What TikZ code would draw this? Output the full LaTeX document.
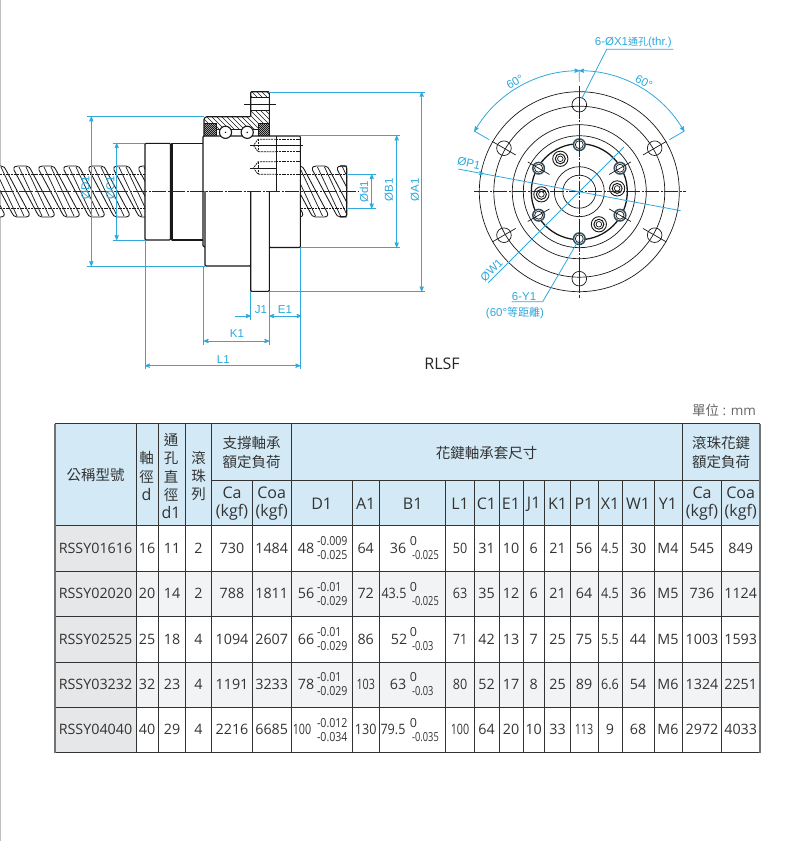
\documentclass[tikz,border=0pt]{standalone}
\usepackage{fontspec}
\setmainfont{Open Sans}
\newfontfamily\cjk{Noto Sans CJK TC}
\newfontfamily\dimfont{Liberation Sans}
\usepackage{tikz}
\usetikzlibrary{arrows}
\usetikzlibrary{positioning}
\definecolor{dimblue}{HTML}{2FA8DC}
\definecolor{headblue}{HTML}{D3EAF6}
\definecolor{namegray}{HTML}{E6E7E8}
\definecolor{rowgray}{HTML}{F2F3F4}
\definecolor{inktext}{HTML}{333333}
\definecolor{holeink}{HTML}{33505E}
\newcommand{\zh}[1]{{\cjk #1}}
\newcommand{\nar}[1]{\scalebox{.75}[1]{#1}}
\newcommand{\semi}[1]{\scalebox{.88}[1]{#1}}
\newcommand{\lat}[1]{{\fontsize{16}{18.3}\selectfont #1}}
\newcommand{\colx}{95.5,147,172,198.5,232,271.7,365.7,460,486.5,511,533.7,557.5,584,610,638,668,702,740.7}
\newcommand{\threadturn}[1]{
  \draw[thread] (#1+1,170) .. controls (#1,166.5) and (#1+3,166) .. (#1+5,166) -- (#1+13,166) .. controls (#1+16,166) and (#1+17,168) .. (#1+18,170) -- (#1+41,213) .. controls (#1+42,216) and (#1+40,217) .. (#1+37,217) -- (#1+29,217) .. controls (#1+26,217) and (#1+25,215) .. (#1+24,213) -- cycle;
  \draw[thin part] (#1+13,167) -- (#1+36,216);
  \draw[thin part] (#1+6,167) -- (#1+29,216);
}
\tikzset{part/.style={draw=black!90,line width=1.1pt,line join=round}}
\tikzset{thin part/.style={draw=black!90,line width=.7pt}}
\tikzset{thread/.style={draw=black!90,line width=.85pt,fill=white}}
\tikzset{hidden/.style={draw=black!90,line width=.75pt,dash pattern=on 2pt off .8pt}}
\tikzset{axis/.style={draw=black!85,line width=.7pt,dash pattern=on 14pt off 1.5pt on 2pt off 1.5pt}}
\tikzset{dimline/.style={draw=dimblue,line width=.8pt}}
\tikzset{dimarrow/.style={dimline,<->,>=stealth'}}
\tikzset{dimlabel/.style={text=dimblue,inner sep=0pt,font=\dimfont\fontsize{11.5}{12}\selectfont}}
\tikzset{grid/.style={draw=black!80,line width=.85pt}}
\tikzset{celltext/.style={text=inktext,inner sep=0pt,font=\fontsize{14.3}{14}\selectfont}}
\tikzset{head/.style={text=inktext,inner sep=0pt,align=center,font=\fontsize{14.5}{18.3}\selectfont}}
\tikzset{tol/.style={text=inktext,inner sep=0pt,font=\fontsize{12.5}{13}\selectfont}}
\begin{document}
\begin{tikzpicture}[x=1pt,y=-1pt]
\useasboundingbox (0,0) rectangle (792,841);
\draw[draw=black!25,line width=1.3pt] (.4,0) -- (.4,841);

% screw shaft
\begin{scope}
\clip (0,160) rectangle (145,225);
\foreach \t in {-37,-12,...,138} {\threadturn{\t}}
\end{scope}
\begin{scope}
\clip (301,160) rectangle (347,225);
\foreach \t in {261.5,286.5,311.5,336.5} {\threadturn{\t}}
\end{scope}
\draw[part,rounded corners=2pt] (340,166) -- (346.7,166) -- (346.7,216.7) -- (340,216.7);
\draw[hidden] (0,174.3) -- (145,174.3) (301,174.3) -- (347,174.3);
\draw[hidden] (0,208.3) -- (145,208.3) (301,208.3) -- (347,208.3);

% nut body
\draw[part,fill=white,rounded corners=1pt] (145,143.3) rectangle (170.5,240);
\draw[part,fill=white] (203,143.3) -- (172,143.3) -- (172,240) -- (203,240);
\draw[part,fill=white,rounded corners=1pt] (205,191) -- (205,266) -- (250.7,266) -- (250.7,246.7) -- (269.3,246.7) -- (269.3,247.5) -- (300.3,247.5) -- (300.3,136) -- (203,136) -- (203,246.7) -- (205,246.7);
\draw[part,fill=white,rounded corners=1pt] (250.7,191) -- (250.7,291.3) -- (269.3,291.3) -- (269.3,191);
\draw[thin part] (276,136) -- (276,191);

% cut-away flange with hatching
\begin{scope}
\clip (204,116.7) -- (250.7,116.7) -- (250.7,110) -- (269.3,110) -- (269.3,123) -- (258.7,123) -- (258.7,129.5) -- (216,129.5) -- (216,123) -- (204,123) -- cycle;
\foreach \h in {150,155,...,300}
  \draw[thin part] (\h,90) -- (\h+50,140);
\end{scope}
\begin{scope}
\clip (250.7,91.7) rectangle (269.3,97.7);
\foreach \h in {220,225,...,270}
  \draw[thin part] (\h,90) -- (\h+10,100);
\end{scope}
\begin{scope}
\clip (204,123) rectangle (216,136);
\foreach \h in {190,192,...,225}
  \draw[draw=black!90,line width=.8pt] (\h,136) -- (\h+13,123);
\end{scope}
\begin{scope}
\clip (258.7,123) rectangle (269.3,136);
\foreach \h in {245,247,...,270}
  \draw[draw=black!90,line width=.8pt] (\h,136) -- (\h+13,123);
\end{scope}
\draw[part,rounded corners=1pt] (204,136) -- (204,118.7) -- (206,116.7) -- (250.7,116.7) -- (250.7,91.7) -- (269.3,91.7) -- (269.3,136);
\draw[thin part] (250.7,97.7) -- (269.3,97.7) (250.7,110) -- (269.3,110);
\draw[thin part] (204,123) -- (216,123) -- (216,136) (258.7,136) -- (258.7,123) -- (269.3,123);
\draw[thin part] (216,129.5) -- (258.7,129.5);
\draw[thin part] (244,104) -- (276,104);
\foreach \bx in {225.5,247.2} {
  \draw[part,fill=white] (\bx,132.3) circle (6.1);
  \fill[black] (\bx,132.3) circle (.8);
}

% threaded holes
\foreach \hy in {145.5,168} {
  \draw[hidden] (276,\hy-6.2) -- (258,\hy-6.2) -- (253.5,\hy) -- (258,\hy+6.2) -- (276,\hy+6.2);
  \draw[hidden] (258,\hy-6.2) -- (258,\hy+6.2);
  \draw[hidden] (276,\hy-6.2) -- (300,\hy-6.2) (276,\hy+6.2) -- (300,\hy+6.2);
}
\draw[thin part] (250,145.5) -- (303,145.5) (250,168) -- (276,168);
\draw[axis] (0,191) -- (358,191);

% dimension lines of side view
\draw[dimline] (87,116.7) -- (204,116.7) (87,266) -- (204.5,266);
\draw[dimline] (112.7,143.3) -- (145,143.3) (112.7,240) -- (145,240);
\draw[dimline] (348,174.3) -- (376,174.3) (348,208.3) -- (376,208.3);
\draw[dimline] (300.3,135.7) -- (400,135.7) (300.3,247.3) -- (400,247.3);
\draw[dimline] (269.3,91.9) -- (425,91.9) (269.3,291.3) -- (425,291.3);
\draw[dimline] (250.7,291.3) -- (250.7,319.5) (269.3,291.3) -- (269.3,345) (300.3,247.3) -- (300.3,369);
\draw[dimline] (203.7,266) -- (203.7,345) (145,240) -- (145,369);
\draw[dimarrow] (91.3,116.7) -- (91.3,266);
\draw[dimarrow] (116.7,143.3) -- (116.7,240);
\draw[dimarrow] (371.7,174.3) -- (371.7,208.3);
\draw[dimarrow] (396.7,135.7) -- (396.7,247.3);
\draw[dimarrow] (421.7,91.9) -- (421.7,291.3);
\draw[dimline,->,>=stealth'] (235,316) -- (250.7,316);
\draw[dimarrow] (269.3,316) -- (301.5,316);
\draw[dimarrow] (203.7,341) -- (269.3,341);
\draw[dimarrow] (145,365.7) -- (300.3,365.7);
\node[dimlabel,rotate=90] (lblD1) at (85.5,188) {ØD1};
\node[dimlabel,rotate=90] (lblC1) at (110.5,188) {ØC1};
\node[dimlabel,rotate=90] (lbld1) at (364,191.5) {Ød1};
\node[dimlabel,rotate=90] (lblB1) at (389,190) {ØB1};
\node[dimlabel,rotate=90] (lblA1) at (415,190) {ØA1};
\node[dimlabel] (lblJ1) at (261,309.5) {J1};
\node[dimlabel] (lblE1) at (285,309.5) {E1};
\node[dimlabel] (lblK1) at (237,334) {K1};
\node[dimlabel] (lblL1) at (223.3,360) {L1};
\node[inner sep=0pt,text=black!85,font=\fontsize{16}{16}\selectfont] (rlsf) at (442,364) {RLSF};

% end view
\begin{scope}[shift={(579.3,191.7)},x=1pt,y=1pt]
\foreach \rr in {100,85.5,67,56,25,16.5}
  \draw[thin part] (0,0) circle (\rr);
\draw[draw=black!90,line width=1.3pt] (0,0) circle (48);
\foreach \a in {30,90,...,330} {
  \draw[thin part] (\a:87) circle (7.3);
  \draw[thin part] (\a:73.5) -- (\a:100.5);
  \draw[draw=holeink,line width=1.5pt,fill=white] (\a:47) circle (5.8);
  \draw[thin part] (\a:47) circle (4);
  \draw[thin part] (\a:34.5) -- (\a:59.5);
}
\foreach \a in {120,5,-59,184} {
  \draw[thin part,line width=.9pt,fill=white] (\a:38) circle (7.6);
  \draw[part,line width=1pt] (\a:38) circle (5);
  \draw[thin part] (\a:38) circle (2.8);
}
\draw[axis] (-105,0) -- (107,0);
\draw[axis] (0,106) -- (0,-106);
% blue dimensions of end view
\draw[dimline] (150:121.5) -- (150:104) (30:121.5) -- (30:104) (0,122) -- (0,110);
\draw[dimarrow] (150:121) arc (150:90:121);
\draw[dimarrow] (90:121) arc (90:30:121);
\draw[dimline,->,>=stealth'] (169.4:123) -- (169.4:97);
\draw[dimline] (169.4:97) -- (-10.6:103);
\draw[dimline] (225:128.7) -- (45:63);
\coordinate (holetop) at (2.6,93.4);
\coordinate (ytip) at (-1,-49);
\end{scope}
\draw[dimline] (673.3,49.3) -- (606.7,49.3) -- (holetop);
\draw[dimline] (511.7,301.7) -- (542.7,301.7) -- (ytip);
\node[dimlabel,rotate=30] (lbl60a) at (515,82) {60°};
\node[dimlabel,rotate=-28] (lbl60b) at (644,82) {60°};
\node[dimlabel,rotate=-12] (lblP1) at (469,163.5) {ØP1};
\node[dimlabel,rotate=45] (lblW1) at (491.5,270) {ØW1};
\node[dimlabel,font=\dimfont\fontsize{11.5}{12}\selectfont] (lblX1) at (633.3,42) {6-ØX1\zh{\fontsize{10}{11}\selectfont 通孔}(thr.)};
\node[dimlabel,font=\dimfont\fontsize{11.5}{12}\selectfont] (lblY1) at (524,296.5) {6-Y1};
\node[dimlabel,font=\dimfont\fontsize{11.5}{12}\selectfont] (lblY2) at (515,312.7) {(60°\zh{\fontsize{11}{12}\selectfont 等距離})};

% table fills
\fill[headblue] (55,423.5) rectangle (760,525.5);
\fill[namegray] (55,525.5) rectangle (136,752.5);
\fill[rowgray] (136,571) rectangle (760,616.5);
\fill[rowgray] (136,662) rectangle (760,707);

% table grid
\foreach \gy in {423.5,525.5,571,616.5,662,707,752.5}
  \draw[grid] (55,\gy) -- (760,\gy);
\draw[grid] (211.5,480) -- (760,480);
\foreach \gx in {136,158.5,185.5,211.5,291,682.5}
  \draw[grid] (\gx,423.5) -- (\gx,752.5);
\foreach \gx in {252.5,352,379.5,445.5,474,499,523,544.5,570.5,598,622,654,721.5}
  \draw[grid] (\gx,480) -- (\gx,752.5);
\draw[draw=black!55,line width=1.3pt] (55,423.5) -- (55,752.5) (760,423.5) -- (760,752.5);

% table header
\node[head,text=black!60,font=\fontsize{13.5}{14}\selectfont] (unit) at (724,410) {\zh{單位} : mm};
\node[head] (hname) at (95.5,475) {\zh{公稱型號}};
\node[head] (hd) at (146.5,476) {\zh{軸}\\\zh{徑}\\\lat{d}};
\node[head] (hdone) at (171,476) {\zh{通}\\\zh{孔}\\\zh{直}\\\zh{徑}\\\lat{d1}};
\node[head] (hrow) at (198.5,476) {\zh{滾}\\\zh{珠}\\\zh{列}};
\node[head] (hsup) at (251.7,452.5) {\zh{支撐軸承}\\\zh{額定負荷}};
\node[head] (hnut) at (486.7,452.7) {\zh{花鍵軸承套尺寸}};
\node[head] (hball) at (721,452.5) {\zh{滾珠花鍵}\\\zh{額定負荷}};
\foreach \hx/\htext [count=\i] in {232/Ca,271.7/Coa,702/Ca,740.7/Coa}
  \node[head] (hload\i) at (\hx,503.8) {\lat{\htext}\\\lat{(kgf)}};
\foreach \hx/\htext [count=\i] in {321.7/D1,365.7/A1,412.7/B1,460/L1,486.5/C1,511/E1,533.7/J1,557.5/K1,584/P1,610/X1,638/W1,668/Y1}
  \node[head] (hdim\i) at (\hx,503.8) {\lat{\htext}};

% table rows
\foreach \rowy/\cells [count=\row] in {
  548.5/{RSSY01616,16,11,2,730,1484,64,\semi{50},31,10,6,21,56,\semi{4.5},30,M4,545,849},
  593.8/{RSSY02020,20,14,2,788,1811,72,\semi{63},35,12,6,21,64,\semi{4.5},36,M5,736,1124},
  639.2/{RSSY02525,25,18,4,1094,2607,86,\semi{71},42,13,7,25,75,\semi{5.5},44,M5,1003,1593},
  684.5/{RSSY03232,32,23,4,1191,3233,\nar{103},\semi{80},52,17,8,25,89,\semi{6.6},54,M6,1324,2251},
  729.8/{RSSY04040,40,29,4,2216,6685,\semi{130},\nar{100},64,20,10,33,\nar{113},9,68,M6,2972,4033}} {
  \foreach \val [count=\col] in \cells {
    \pgfmathsetmacro\xx{{\colx}[\col-1]}
    \node[celltext] (cell\row-\col) at (\xx,\rowy) {\val};
  }
}
% toleranced columns
\foreach \rowy/\dx/\dnom/\dup/\dlo/\bx/\bnom/\blo [count=\row] in {
  548.5/306/48/-0.009/-0.025/398/36/-0.025,
  593.8/306/56/-0.01/-0.029/394/\semi{43.5}/-0.025,
  639.2/306/66/-0.01/-0.029/399/52/-0.03,
  684.5/306/78/-0.01/-0.029/398/63/-0.03,
  729.8/302/\nar{100}/-0.012/-0.034/393/\semi{79.5}/-0.035} {
  \node[celltext] (dnom\row) at (\dx,\rowy) {\dnom};
  \node[tol,anchor=west] (dup\row) at (316.8,\rowy-7) {\scalebox{.85}[1]{\dup}};
  \node[tol,anchor=west] (dlo\row) at (316.8,\rowy+7) {\scalebox{.85}[1]{\dlo}};
  \node[celltext] (bnom\row) at (\bx,\rowy) {\bnom};
  \node[tol] (bup\row) at (413.5,\rowy-7) {0};
  \node[tol,anchor=west] (blo\row) at (412,\rowy+7) {\scalebox{.74}[1]{\blo}};
}
\end{tikzpicture}
\end{document}
